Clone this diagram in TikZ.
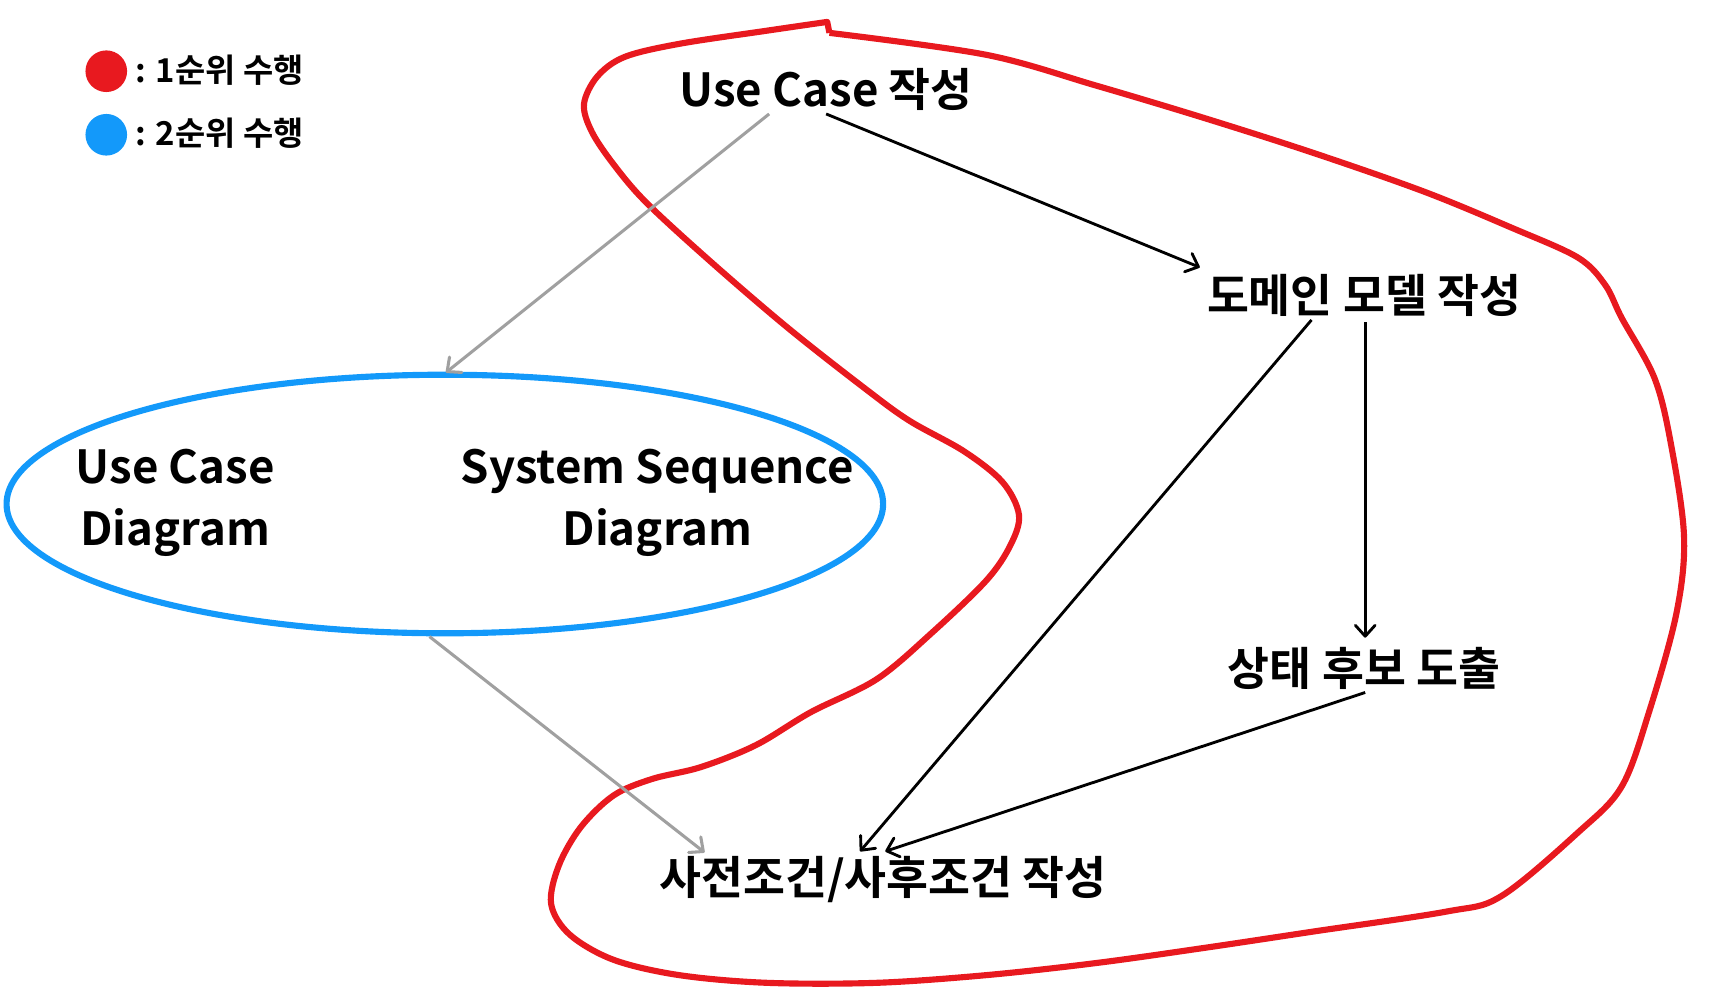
\documentclass[tikz,border=0pt]{standalone}
\usepackage{fontspec}
\setmainfont{Noto Sans CJK KR}[BoldFont=* Bold]
\usetikzlibrary{arrows.meta}
\definecolor{myred}{HTML}{E8191F}
\definecolor{myblue}{HTML}{1399FA}
\definecolor{mygray}{HTML}{A0A0A0}
\begin{document}
\begin{tikzpicture}[x=0.5pt,y=-0.5pt,
  lbl/.style={font=\bfseries\fontsize{20.8}{28}\selectfont, inner sep=0pt, align=center},
  leg/.style={font=\bfseries\fontsize{15}{18}\selectfont, inner sep=0pt, anchor=west},
  blk/.style={draw=black, line width=1.3pt, -{Straight Barb[length=5pt,width=9pt,round]}},
  gry/.style={draw=mygray, line width=1.4pt, -{Straight Barb[length=5pt,width=9pt,round]}}]
\useasboundingbox (0,0) rectangle (1568,904);
% legend
\fill[myred] (97,65) circle (19);
\fill[myblue] (97,123) circle (19);
\node[leg] (l1) at (123,64) {: 1순위 수행};
\node[leg] (l2) at (123,122) {: 2순위 수행};
% blue ellipse
\draw[myblue, line width=2.8pt] (406,460) ellipse [x radius=400, y radius=118];
\coordinate (elltop) at (407,340);
\coordinate (ellbot) at (392,581);
\node[lbl] (ucd) at (160,459) {Use Case\\Diagram};
\node[lbl] (ssd) at (600,459) {System Sequence\\Diagram};
% labels
\node[lbl] (uc) at (754,82) {Use Case 작성};
\node[lbl] (dm) at (1245,270) {도메인 모델 작성};
\node[lbl] (st) at (1245,610) {상태 후보 도출};
\node[lbl] (pp) at (806,803) {사전조건/사후조건 작성};
% red curve
\draw[myred, line width=2.8pt, line join=round] plot[smooth, tension=0.55] coordinates {
 (757,30) (900,50) (1000,78) (1100,108) (1200,140) (1300,175) (1380,208) (1440,235)
 (1465,260) (1480,290) (1510,345) (1525,405) (1537,490) (1530,560) (1505,650) (1480,718)
 (1440,760) (1370,818) (1320,832) (1200,850) (1100,865) (1000,879) (900,890) (800,897)
 (700,897) (620,890) (560,876) (520,853) (503,825) (510,790) (530,755) (560,726)
 (595,711) (640,700) (690,680) (740,650) (800,620) (850,578) (900,530) (922,498)
 (930,470) (915,440) (880,412) (830,384) (790,355) (720,300) (650,240) (590,185)
 (560,150) (540,120) (533,95) (545,70) (570,52) (620,40) (700,28) (755,20)} -- (757,30);
% connector end points
\coordinate (ucL) at (702,104);
\coordinate (ucR) at (754,104);
\coordinate (dmIn) at (1095,244);
\coordinate (dmL) at (1197,292);
\coordinate (dmB) at (1246,294);
\coordinate (stIn) at (1246,582);
\coordinate (stB) at (1246,632);
\coordinate (ppG) at (643,778);
\coordinate (ppA) at (785,777);
\coordinate (ppB) at (808,777);
% connectors
\draw[gry] (ucL) -- (elltop);
\draw[gry] (ellbot) -- (ppG);
\draw[blk] (ucR) -- (dmIn);
\draw[blk] (dmL) -- (ppA);
\draw[blk] (dmB) -- (stIn);
\draw[blk] (stB) -- (ppB);
\end{tikzpicture}
\end{document}
